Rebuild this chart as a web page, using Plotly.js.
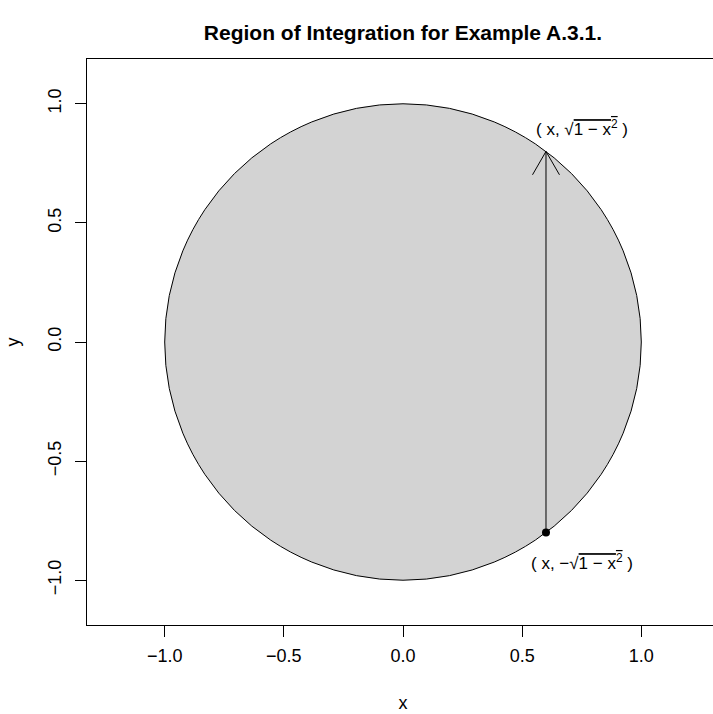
<!DOCTYPE html>
<html>
<head>
<meta charset="utf-8">
<script src="https://cdn.plot.ly/plotly-3.0.1.min.js"></script>
<style>
html, body { margin: 0; padding: 0; overflow: hidden; background: #fff; }
#chart { width: 740px; height: 714px; }
</style>
</head>
<body>
<div id="chart"></div>
<script>
// ---- data ----
const chartTitle = "Region of Integration for Example A.3.1.";
const xAxisTitle = "x";
const yAxisTitle = "y";
const xRange = [-1.326, 1.326];
const yRange = [-1.188, 1.188];
const tickVals = [-1.0, -0.5, 0.0, 0.5, 1.0];
const tickText = ["\u22121.0", "\u22120.5", "0.0", "0.5", "1.0"];
const circleCenter = [0, 0];
const circleRadius = 1;
const segmentX = [0.6, 0.6];
const segmentY = [-0.8, 0.8];
const pointX = [0.6];
const pointY = [-0.8];
const labelX = [0.75, 0.75];
const labelY = [0.9, -0.925];
const labelText = [
  "( x, \u221A<span style=\"text-decoration:overline\">1 \u2212 x<sup>2</sup></span> )",
  "( x, \u2212\u221A<span style=\"text-decoration:overline\">1 \u2212 x<sup>2</sup></span> )"
];

// ---- layout geometry ----
const W = 740, H = 714;
const margin = { l: 87, r: 20.5, t: 59, b: 89, pad: 0 };
const plotW = W - margin.l - margin.r;
const plotH = H - margin.t - margin.b;
const pxPerX = plotW / (xRange[1] - xRange[0]);
const pxPerY = plotH / (yRange[1] - yRange[0]);

// open "V" arrowhead like R's arrows(): length in px, angle from shaft
const headLenPx = 27, headAngle = 30 * Math.PI / 180;
const tipX = segmentX[1], tipY = segmentY[1];
const hdx = headLenPx * Math.sin(headAngle) / pxPerX;
const hdy = headLenPx * Math.cos(headAngle) / pxPerY;

const font = "Liberation Sans, Arial, Helvetica, sans-serif";

const traces = [
  { x: segmentX, y: segmentY, mode: "lines", type: "scatter",
    line: { color: "#000", width: 1 }, hoverinfo: "skip", showlegend: false },
  { x: [tipX - hdx, tipX, tipX + hdx], y: [tipY - hdy, tipY, tipY - hdy],
    mode: "lines", type: "scatter", line: { color: "#000", width: 1 },
    hoverinfo: "skip", showlegend: false },
  { x: pointX, y: pointY, mode: "markers", type: "scatter",
    marker: { color: "#000", size: 8 }, hoverinfo: "skip", showlegend: false }
];

const axisCommon = {
  showgrid: false, zeroline: false, showline: true, mirror: true,
  linecolor: "#000", linewidth: 1, ticks: "outside", ticklen: 11,
  tickcolor: "#000", tickwidth: 1, tickvals: tickVals, ticktext: tickText,
  tickfont: { family: font, size: 18, color: "#000" }, automargin: false,
  fixedrange: true
};

const layout = {
  width: W, height: H, margin: margin,
  paper_bgcolor: "#fff", plot_bgcolor: "#fff",
  title: { text: "<b>" + chartTitle + "</b>", font: { family: font, size: 21, color: "#000" },
           x: 0.5, xref: "paper", xanchor: "center", y: 1 - 33 / H, yref: "container", yanchor: "middle" },
  xaxis: Object.assign({}, axisCommon, { range: xRange, ticklabelstandoff: 3,
    title: { text: xAxisTitle, font: { family: font, size: 18, color: "#000" }, standoff: 31 } }),
  yaxis: Object.assign({}, axisCommon, { range: yRange, tickangle: -90, ticklabelstandoff: 7,
    title: { text: yAxisTitle, font: { family: font, size: 18, color: "#000" }, standoff: 20 } }),
  shapes: [
    { type: "circle", xref: "x", yref: "y", layer: "below",
      x0: circleCenter[0] - circleRadius, x1: circleCenter[0] + circleRadius,
      y0: circleCenter[1] - circleRadius, y1: circleCenter[1] + circleRadius,
      fillcolor: "#D3D3D3", line: { color: "#000", width: 1 } }
  ],
  annotations: labelText.map((t, i) => ({
    x: labelX[i], y: labelY[i], xref: "x", yref: "y", text: t, showarrow: false,
    xanchor: "center", yanchor: "middle", font: { family: font, size: 17, color: "#000" }
  }))
};

Plotly.newPlot("chart", traces, layout, { displayModeBar: false, staticPlot: true });
</script>
</body>
</html>
